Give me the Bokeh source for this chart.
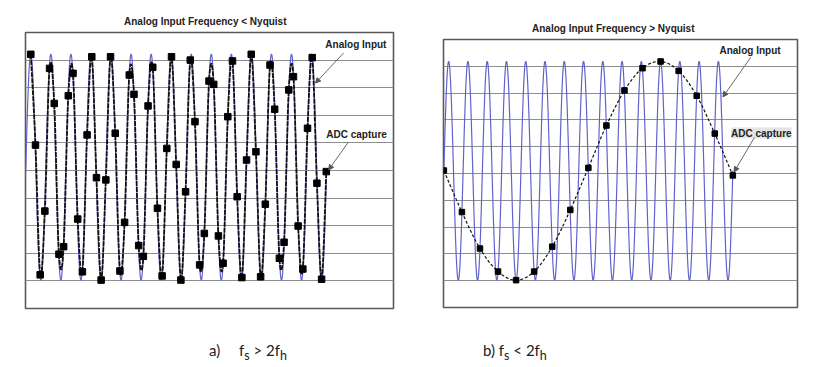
import numpy as np
from bokeh.plotting import figure
from bokeh.models import Label, Arrow, NormalHead, Grid, FixedTicker, Range1d, Div
from bokeh.layouts import row, column
from bokeh.embed import file_html
from bokeh.resources import INLINE

# ---------------- data ----------------
grid_levels = [-4, -3, -2, -1, 0, 1, 2, 3, 4]

# panel a: analog input below Nyquist, sampled ~4.28 times per cycle
a_title = "Analog Input Frequency &lt; Nyquist"
a_sample_index = list(range(64))
a_sample_values = [4.21, 0.92, -3.78, -1.47, 3.70, 2.43, -3.03, -2.76, 2.71, 3.52,
                   -1.76, -3.67, 1.29, 4.12, -0.26, -3.97, -0.34, 4.12, 1.35, -3.64,
                   -1.88, 3.46, 2.76, -2.72, -3.11, 2.34, 3.74, -1.37, -3.82, 0.80,
                   4.12, 0.22, -3.97, -0.77, 4.00, 1.77, -3.42, -2.28, 3.24, 3.12,
                   -2.37, -3.36, 1.95, 3.97, -0.95, -3.88, 0.38, 4.21, 0.68, -3.85,
                   -1.22, 3.82, 2.22, -3.18, -2.60, 2.92, 3.40, -2.01, -3.57, 1.53,
                   4.09, -0.46, -3.94, -0.04]
a_input_amplitude = 4.09
a_input_offset = 0.12
a_input_period = 4.276      # in sample intervals
a_input_start, a_input_end = -1.1, 63.0

# panel b: analog input above Nyquist, 16/15 of a cycle per sample -> alias
b_title = "Analog Input Frequency &gt; Nyquist"
b_sample_index = list(range(17))
b_sample_values = [0.11, -1.44, -2.80, -3.66, -3.98, -3.66, -2.73, -1.36, 0.21,
                   1.79, 3.10, 3.93, 4.18, 3.83, 2.90, 1.49, -0.07]
b_input_amplitude = 4.08
b_input_offset = 0.10
b_input_period = 16 / 15    # in sample intervals
b_input_start, b_input_end = 0.0, 16.0

caption_a = "a)&emsp;&ensp;f<sub>s</sub> &gt; 2f<sub>h</sub>"
caption_b = "b) f<sub>s</sub> &lt; 2f<sub>h</sub>"

BLUE = "#6262cc"
FRAME = "#5a5a5a"
GRIDC = "#8e8e8e"
FONT = "Liberation Sans"


def smooth(xs, ys, steps=14):
    x = np.asarray(xs, float)
    y = np.asarray(ys, float)
    px = np.concatenate([[x[0]], x, [x[-1]]])
    py = np.concatenate([[y[0]], y, [y[-1]]])
    t = np.linspace(0, 1, steps, endpoint=False)
    ox, oy = [], []
    for i in range(1, len(px) - 2):
        for arr, out in ((px, ox), (py, oy)):
            p0, p1, p2, p3 = arr[i - 1], arr[i], arr[i + 1], arr[i + 2]
            out.extend(0.5 * (2 * p1 + (-p0 + p2) * t + (2 * p0 - 5 * p1 + 4 * p2 - p3) * t ** 2
                              + (-p0 + 3 * p1 - 3 * p2 + p3) * t ** 3))
    ox.append(x[-1]); oy.append(y[-1])
    return ox, oy


def panel(width, height, xr, left, right):
    p = figure(width=width, height=height, x_range=Range1d(*xr), y_range=Range1d(-5, 5),
               x_axis_type=None, y_axis_type=None, toolbar_location=None, title=None,
               output_backend="svg", min_border_left=left, min_border_right=right,
               min_border_top=2, min_border_bottom=2)
    p.outline_line_color = FRAME
    p.outline_line_width = 1.6
    p.background_fill_color = "white"
    p.border_fill_color = "white"
    p.add_layout(Grid(dimension=1, ticker=FixedTicker(ticks=grid_levels),
                      grid_line_color=GRIDC, grid_line_width=1))
    return p


def text_div(html, width, height, pad_left, pad_top, size, bold, font, line):
    style = ("padding-left:%dpx;padding-top:%dpx;font-family:'%s';font-size:%s;"
             "font-weight:%s;line-height:%dpx;white-space:nowrap;color:#222222;margin:0")
    return Div(text='<div style="%s">%s</div>' % (
        style % (pad_left, pad_top, font, size, "bold" if bold else "normal", line), html),
        width=width, height=height, margin=0)


def lab(p, x, y, text, bg=None):
    kw = {}
    if bg:
        kw = dict(background_fill_color=bg)
    p.add_layout(Label(x=x, y=y, text=text, text_font=FONT, text_font_size="10px",
                       text_font_style="bold", text_align="left",
                       text_baseline="middle", text_color="#222222", **kw))


def arrow(p, x0, y0, x1, y1):
    p.add_layout(Arrow(end=NormalHead(size=5, fill_color="#555555", line_color="#555555"),
                       x_start=x0, y_start=y0, x_end=x1, y_end=y1,
                       line_color="#6a6a6a", line_width=1))


# ---------------- panel a ----------------
pa = panel(420, 280, (-1.13, 77.33), 25, 27)
ta = np.linspace(a_input_start, a_input_end, 3000)
pa.line(ta, a_input_offset + a_input_amplitude * np.cos(2 * np.pi * ta / a_input_period),
        line_color=BLUE, line_width=1.2)
sx, sy = smooth(a_sample_index, a_sample_values)
pa.line(sx, sy, line_color="#111111", line_width=1.8, line_dash="5 1")
pa.scatter(a_sample_index, a_sample_values, marker="square", size=6.5,
           fill_color="black", line_color="black")
lab(pa, 62.8, 4.55, "Analog Input")
arrow(pa, 66.7, 4.26, 60.7, 3.17)
lab(pa, 63.0, 1.29, "ADC capture")
arrow(pa, 67.7, 1.03, 63.5, 0.02)
ta_div = text_div(a_title, 420, 30, 124, 16, "10px", True, FONT, 12)
ca_div = text_div(caption_a, 420, 50, 209, 31, "15px", False, "Lato", 18)

# ---------------- panel b ----------------
pb = panel(405, 272, (-0.02, 19.58), 23, 28)
tb = np.linspace(b_input_start, b_input_end, 3000)
pb.line(tb, b_input_offset + b_input_amplitude * np.sin(2 * np.pi * tb / b_input_period),
        line_color=BLUE, line_width=1.2)
bx, by = smooth(b_sample_index, b_sample_values)
pb.line(bx, by, line_color="#111111", line_width=1.2, line_dash="3 2")
pb.scatter(b_sample_index, b_sample_values, marker="square", size=5.5,
           fill_color="black", line_color="black")
lab(pb, 15.26, 4.6, "Analog Input")
arrow(pb, 17.0, 4.34, 15.45, 2.86)
lab(pb, 15.9, 1.51, "ADC capture", bg="#e4e4e4")
arrow(pb, 17.2, 1.35, 16.07, 0.06)
tb_div = text_div(b_title, 405, 37, 112, 23, "10px", True, FONT, 12)
cb_div = text_div(caption_b, 405, 51, 63, 32, "15px", False, "Lato", 18)

layout = row(column(ta_div, pa, ca_div), column(tb_div, pb, cb_div))
open("out.html", "w").write(file_html(layout, INLINE))
